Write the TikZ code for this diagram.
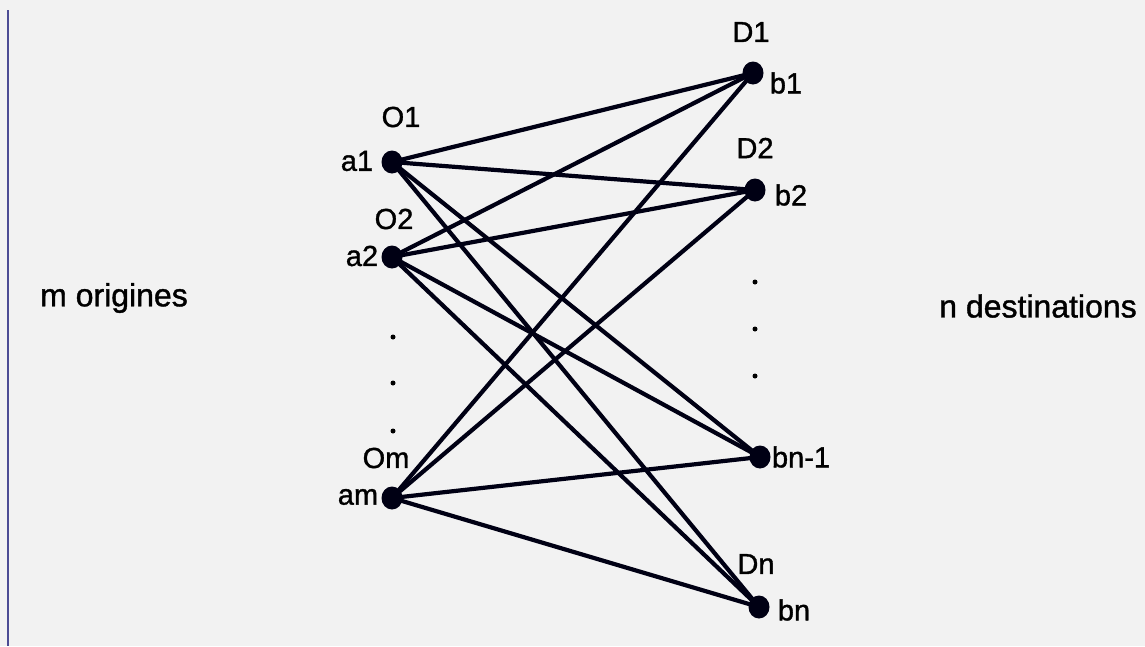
\documentclass[tikz,border=0pt]{standalone}
\usepackage{fontspec}
\usetikzlibrary{shapes.geometric}
\setmainfont{Liberation Sans}
\newfontfamily\scanfont[FakeBold=1.2]{Liberation Sans}
\begin{document}
\begin{tikzpicture}[x=1pt,y=-1pt,
  vertex/.style={ellipse,fill=black!92!blue,inner sep=0pt,minimum width=21pt,minimum height=23pt},
  edge/.style={line width=4.2pt,black!92!blue},
  lbl/.style={inner sep=0pt,font=\scanfont\fontsize{29}{34}\selectfont},
  side/.style={inner sep=0pt,font=\scanfont\fontsize{32}{38}\selectfont},
  ell/.style={circle,fill=black,inner sep=0pt,minimum size=5pt}]
\useasboundingbox (0,0) rectangle (1145,646);
\fill[black!5] (0,0) rectangle (1145,646);
\coordinate (lt) at (8,10);
\coordinate (lb) at (8,646);
\draw[line width=2pt,black!60!blue!70] (lt) -- (lb);
% origin vertices
\node[vertex] (a1) at (392,162) {};
\node[vertex] (a2) at (392,257) {};
\node[vertex] (am) at (392,498) {};
% destination vertices
\node[vertex] (b1) at (753,73) {};
\node[vertex] (b2) at (755,190) {};
\node[vertex] (bn1) at (760,457) {};
\node[vertex] (bn) at (759,607) {};
% edges
\foreach \o in {a1,a2,am}
  \foreach \d in {b1,b2,bn1,bn}
    \draw[edge] (\o.center) -- (\d.center);
% labels
\node[lbl] (lO1) at (401,117) {O1};
\node[lbl] (la1) at (357,161) {a1};
\node[lbl] (lO2) at (394,219) {O2};
\node[lbl] (la2) at (362,256) {a2};
\node[lbl] (lOm) at (386,458) {Om};
\node[lbl] (lam) at (358,497) {am};
\node[lbl] (lD1) at (751,32) {D1};
\node[lbl] (lb1) at (786,83) {b1};
\node[lbl] (lD2) at (755,148) {D2};
\node[lbl] (lb2) at (791,195) {b2};
\node[lbl] (lbn1) at (801,457) {bn-1};
\node[lbl] (lDn) at (756,564) {Dn};
\node[lbl] (lbn) at (794,610) {bn};
% ellipsis dots
\node[ell] (e1) at (393,337) {};
\node[ell] (e2) at (393,383) {};
\node[ell] (e3) at (393,431) {};
\node[ell] (f1) at (755,282) {};
\node[ell] (f2) at (755,329) {};
\node[ell] (f3) at (755,376) {};
% side texts
\node[side] (mo) at (114,298) {m origines};
\node[side] (nd) at (1038,306) {n destinations};
\end{tikzpicture}
\end{document}
